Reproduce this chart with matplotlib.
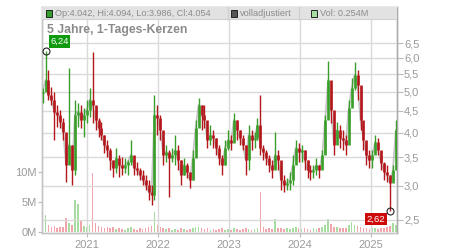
import matplotlib
matplotlib.use("Agg")
import matplotlib.pyplot as plt
import matplotlib.dates as mdates
from matplotlib.patches import Rectangle
import numpy as np
import pandas as pd

plt.rcParams['font.family'] = ['Liberation Sans', 'DejaVu Sans']

# ---- data (bucketed candles) ----
first_open = 4.95
highs = [5.09, 6.24, 5.62, 5.13, 4.99, 4.65, 4.53, 4.34, 3.95, 5.68,
         3.75, 4.78, 4.70, 4.65, 4.58, 4.78, 5.09, 6.19, 4.53, 4.34,
         4.25, 3.95, 3.85, 3.69, 3.45, 3.69, 3.55, 3.51, 3.49, 3.45,
         3.85, 3.45, 3.42, 3.31, 3.27, 3.18, 3.10, 3.02, 4.91, 4.65,
         4.41, 3.85, 3.75, 3.64, 3.69, 3.95, 3.75, 3.45, 3.49, 3.40,
         3.24, 3.64, 4.29, 4.83, 4.65, 4.65, 4.06, 4.17, 4.06, 3.89,
         3.75, 3.55, 3.85, 4.06, 3.95, 4.46, 4.29, 4.06, 3.95, 3.75,
         4.17, 4.06, 4.01, 4.34, 4.91, 3.75, 3.64, 3.55, 3.45, 4.01,
         3.64, 3.36, 3.18, 3.13, 3.24, 3.55, 3.85, 3.79, 3.75, 3.64,
         3.45, 3.36, 3.36, 3.49, 3.36, 3.64, 4.41, 5.90, 5.18, 4.06,
         4.25, 4.17, 4.06, 3.95, 4.78, 5.38, 5.87, 5.62, 5.04, 4.17,
         3.75, 3.64, 3.64, 3.95, 3.89, 3.55, 3.42, 3.36, 3.18, 3.36,
         4.29]
lows = [4.70, 5.04, 4.78, 4.65, 3.85, 4.13, 4.11, 3.85, 3.06, 3.45,
        3.02, 3.18, 4.13, 4.11, 3.91, 4.22, 4.36, 4.22, 4.06, 3.91,
        3.85, 3.59, 3.51, 3.27, 3.15, 3.22, 3.15, 3.18, 3.22, 3.18,
        3.36, 3.18, 3.18, 3.10, 3.02, 2.94, 2.78, 2.71, 2.78, 3.95,
        3.85, 3.36, 3.42, 2.82, 3.42, 3.36, 3.27, 3.02, 3.18, 3.13,
        2.97, 3.10, 3.75, 4.17, 4.06, 4.11, 3.69, 3.75, 3.69, 3.55,
        3.36, 3.18, 3.36, 3.64, 3.64, 3.95, 3.85, 3.75, 3.64, 3.18,
        3.27, 3.64, 3.69, 3.85, 3.55, 3.45, 3.36, 3.24, 3.13, 3.31,
        3.27, 2.94, 2.91, 2.94, 2.94, 3.02, 3.45, 3.42, 3.42, 3.27,
        3.13, 3.10, 3.13, 3.18, 3.13, 3.36, 3.61, 4.53, 4.22, 3.55,
        3.81, 3.69, 3.64, 3.55, 4.17, 4.70, 5.04, 4.78, 4.06, 3.64,
        3.36, 3.31, 3.31, 3.59, 3.55, 3.27, 3.10, 3.06, 2.62, 3.10,
        3.64]
closes = [4.99, 5.32, 4.91, 4.78, 4.48, 4.41, 4.25, 4.01, 3.36, 3.75,
          3.27, 4.41, 4.48, 4.29, 4.41, 4.53, 4.78, 4.65, 4.29, 4.11,
          3.95, 3.75, 3.64, 3.45, 3.31, 3.49, 3.36, 3.31, 3.36, 3.42,
          3.55, 3.31, 3.27, 3.18, 3.10, 3.02, 2.91, 2.86, 4.41, 4.34,
          4.06, 3.55, 3.61, 3.49, 3.55, 3.64, 3.45, 3.18, 3.36, 3.24,
          3.10, 3.49, 4.11, 4.65, 4.41, 4.29, 3.85, 3.95, 3.89, 3.69,
          3.49, 3.36, 3.69, 3.85, 3.79, 4.29, 4.06, 3.89, 3.75, 3.45,
          3.95, 3.85, 3.89, 4.17, 3.69, 3.61, 3.49, 3.36, 3.27, 3.55,
          3.45, 3.10, 3.02, 3.05, 3.10, 3.36, 3.69, 3.61, 3.64, 3.45,
          3.27, 3.24, 3.27, 3.36, 3.27, 3.55, 4.29, 5.32, 4.53, 3.75,
          4.06, 3.89, 3.85, 3.75, 4.58, 5.09, 5.47, 5.18, 4.29, 3.85,
          3.55, 3.45, 3.55, 3.81, 3.64, 3.40, 3.24, 3.18, 3.05, 3.27,
          4.054]
volumes_m = [0.8, 2.8, 1.2, 0.9, 1.0, 0.7, 0.8, 0.9, 2.4, 1.5,
             1.2, 5.3, 4.7, 2.0, 1.0, 0.8, 1.1, 9.8, 1.5, 1.0,
             0.8, 0.7, 0.9, 0.6, 0.8, 0.5, 0.6, 0.5, 0.4, 0.6,
             0.9, 0.5, 0.4, 0.6, 0.5, 0.7, 0.8, 1.0, 3.3, 1.2,
             0.8, 0.6, 0.5, 0.7, 0.4, 0.5, 0.4, 0.6, 0.5, 0.4,
             0.5, 0.6, 0.8, 0.9, 0.6, 0.5, 0.6, 0.4, 0.5, 0.4,
             0.5, 0.6, 0.4, 0.5, 0.4, 0.6, 0.5, 0.4, 0.5, 0.6,
             0.5, 0.4, 0.5, 0.6, 6.7, 0.8, 0.5, 0.6, 0.5, 2.2,
             0.7, 0.6, 0.5, 0.7, 0.5, 0.6, 0.9, 0.7, 0.5, 0.6,
             0.5, 0.4, 0.6, 0.5, 0.6, 0.8, 1.2, 2.2, 1.4, 0.8,
             0.9, 0.7, 0.6, 0.7, 1.1, 1.7, 1.2, 1.0, 0.9, 0.7,
             0.6, 0.5, 0.6, 0.7, 0.5, 0.6, 0.7, 0.8, 1.0, 1.5,
             1.2]
start_date, end_date = "2020-05-20", "2025-05-08"
view_start, view_end = "2020-05-17", "2025-05-14"

price_ticks = [2.5, 3.0, 3.5, 4.0, 4.5, 5.0, 5.5, 6.0, 6.5]
price_labels = ["2,5", "3,0", "3,5", "4,0", "4,5", "5,0", "5,5", "6,0", "6,5"]
vol_ticks = [0, 5, 10]
vol_labels = ["0M", "5M", "10M"]
year_ticks = ["2021-01-01", "2022-01-01", "2023-01-01", "2024-01-01", "2025-01-01"]
year_labels = ["2021", "2022", "2023", "2024", "2025"]
legend_text = "Op:4.042, Hi:4.094, Lo:3.986, Cl:4.054"
vol_text = "Vol: 0.254M"
adj_text = "volladjustiert"
title = "5 Jahre, 1-Tages-Kerzen"
max_label, min_label = "6,24", "2,62"

# ---- derived ----
dates = pd.date_range(start_date, end_date, periods=len(closes))
xd = mdates.date2num(dates)
hi = np.array(highs); lo = np.array(lows); cl = np.array(closes)
op = np.concatenate([[first_open], cl[:-1]])
up = cl >= op

GREEN = "#3a9e2a"
RED = "#b3161b"
VGREEN = "#a6dca0"
VRED = "#f2a4ac"
GRID = "#dadada"
TXT = "#9a9a9a"

fig = plt.figure(figsize=(4.5, 2.5), dpi=100)
rect = [42/450, 17/250, 355/450, 226/250]
axv = fig.add_axes(rect)
ax = axv.twinx()

# volume
step = (xd[1] - xd[0])
axv.bar(xd, volumes_m, width=step*0.55, color=np.where(up, VGREEN, VRED), linewidth=0)
axv.set_ylim(-1/6, 226/6 - 1/6)
axv.yaxis.tick_left()
axv.set_yticks(vol_ticks)
axv.set_yticklabels(vol_labels)

# price
ax.set_yscale("log")
ax.set_ylim(2.325, 7.90)
ax.plot(xd, cl, color="#a0a0a0", lw=1.3, alpha=0.6, zorder=2)
colors = np.where(up, GREEN, RED)
ax.vlines(xd, lo, hi, colors=colors, lw=1.0, zorder=3)
ax.vlines(xd, np.minimum(op, cl), np.maximum(op, cl), colors=colors, lw=1.9, zorder=3)
ax.yaxis.tick_right()
ax.set_yticks(price_ticks)
ax.set_yticklabels(price_labels)
ax.yaxis.set_minor_locator(matplotlib.ticker.NullLocator())
ax.grid(True, axis="y", color=GRID, lw=1, zorder=0)
ax.set_axisbelow(True)

for a in (ax, axv):
    a.set_xlim(mdates.datestr2num(view_start), mdates.datestr2num(view_end))
    for s in a.spines.values():
        s.set_color("#c4c4c4")
        s.set_linewidth(1)
ax.spines["right"].set_color("#aaaaaa")

yt = mdates.date2num(pd.to_datetime(year_ticks))
axv.set_xticks(yt)
axv.set_xticklabels(year_labels)
axv.grid(True, axis="x", color=GRID, lw=1)
axv.tick_params(axis="x", colors="#bbbbbb", labelcolor=TXT, labelsize=8, length=3, pad=2)
axv.tick_params(axis="y", colors="#bbbbbb", labelcolor=TXT, labelsize=8, length=3, pad=1)
ax.tick_params(axis="y", colors="#bbbbbb", labelcolor=TXT, labelsize=8, length=4, pad=1)
ax.tick_params(axis="x", length=0)

# header band
hb = 1 - 12/226
ax.add_patch(Rectangle((0, hb), 1, 1 - hb, transform=ax.transAxes, facecolor="#e2e2e2",
                       edgecolor="none", zorder=5, clip_on=False))
ax.plot([0, 1], [hb, hb], transform=ax.transAxes, color="#d0d0d0", lw=0.8, zorder=6)
for xs in [(228-42)/355, (299-42)/355]:
    ax.plot([xs, xs], [hb, 1], transform=ax.transAxes, color="#cfcfcf", lw=1, zorder=6)

def legend_item(xpix, face, text):
    xf = (xpix - 42) / 355
    ax.add_patch(Rectangle((xf, 1 - 9.5/226), 6/355, 6/226, transform=ax.transAxes,
                           facecolor=face, edgecolor="#222222", lw=0.7, zorder=7, clip_on=False))
    ax.text(xf + 9/355, 1 - 6.3/226, text, transform=ax.transAxes, fontsize=6.6,
            color="#8c8c8c", va="center", ha="left", zorder=7)

legend_item(46, "#33a02c", legend_text)
legend_item(231, "#555555", adj_text)
legend_item(311, "#a6dca0", vol_text)

ax.text(5/355, 1 - 23/226, title, transform=ax.transAxes, fontsize=8.8, fontweight="bold",
        color="#8a8a8a", va="center", ha="left", zorder=7)

# extreme markers
imax = int(np.argmax(hi)); imin = int(np.argmin(lo))
ax.plot([xd[imax]], [hi[imax]], marker="o", ms=5, mfc="none", mec="#222222", mew=0.8, zorder=8, clip_on=False)
ax.plot([xd[imin]], [lo[imin]], marker="o", ms=5, mfc="none", mec="#222222", mew=0.8, zorder=8, clip_on=False)
ax.annotate(max_label, (xd[imax], hi[imax]), xytext=(14, 9), textcoords="offset pixels",
            ha="center", va="center", fontsize=6.8, color="white", zorder=9,
            bbox=dict(boxstyle="square,pad=0.18", fc="#0f9a0f", ec="none"))
ax.annotate(min_label, (xd[imin], lo[imin]), xytext=(-14, -8), textcoords="offset pixels",
            ha="center", va="center", fontsize=6.8, color="white", zorder=9,
            bbox=dict(boxstyle="square,pad=0.18", fc="#cc0a0a", ec="none"))

fig.savefig("out.png", dpi=100, facecolor="white")
